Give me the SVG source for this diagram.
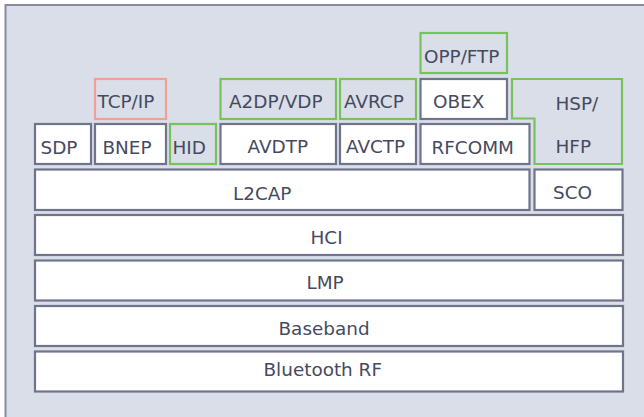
<svg xmlns="http://www.w3.org/2000/svg" width="644" height="417" viewBox="0 0 644 417">
<style>
.bg{fill:#d9dee8;stroke:#868b9f;stroke-width:2}
.b{fill:#ffffff;stroke:#6f748a;stroke-width:2.2}
.g{fill:none;stroke:#77c25a;stroke-width:2.2}
.r{fill:none;stroke:#f2a091;stroke-width:2.2}
text{font-family:"DejaVu Sans",sans-serif;font-size:18.4px;fill:#454a61}
</style>
<rect class="bg" x="5.5" y="5" width="650" height="430"/>
<g id="OPP-FTP"><rect class="g" x="420.5" y="33" width="86.5" height="40"/><text x="424" y="62.5">OPP/FTP</text></g>
<g id="TCP-IP"><rect class="r" x="95" y="79" width="71" height="40"/><text x="97.5" y="107.5">TCP/IP</text></g>
<g id="A2DP-VDP"><rect class="g" x="220.5" y="79" width="115.5" height="40"/><text x="229" y="107.5">A2DP/VDP</text></g>
<g id="AVRCP"><rect class="g" x="340" y="79" width="76" height="40"/><text x="344" y="107.5">AVRCP</text></g>
<g id="OBEX"><rect class="b" x="420.5" y="79" width="86.5" height="40"/><text x="433" y="107.5">OBEX</text></g>
<g id="HSP-HFP"><path class="g" d="M512,79 H622 V164 H534.5 V118.5 H512 Z"/><text x="555.5" y="109.5">HSP/</text><text x="555.5" y="153">HFP</text></g>
<g id="SDP"><rect class="b" x="35" y="124" width="56" height="40"/><text x="40.5" y="153.5">SDP</text></g>
<g id="BNEP"><rect class="b" x="95" y="124" width="71" height="40"/><text x="102.5" y="153.5">BNEP</text></g>
<g id="HID"><rect class="g" x="170" y="124" width="46" height="40"/><text x="172.5" y="153.5">HID</text></g>
<g id="AVDTP"><rect class="b" x="220.5" y="124" width="115.5" height="40"/><text x="247.5" y="152.5">AVDTP</text></g>
<g id="AVCTP"><rect class="b" x="340" y="124" width="76" height="40"/><text x="346" y="152.5">AVCTP</text></g>
<g id="RFCOMM"><rect class="b" x="420.5" y="124" width="109" height="40"/><text x="431.5" y="153.5">RFCOMM</text></g>
<g id="L2CAP"><rect class="b" x="35" y="169.5" width="494.5" height="40.5"/><text x="233" y="199.5">L2CAP</text></g>
<g id="SCO"><rect class="b" x="534.5" y="169.5" width="88" height="40.5"/><text x="553" y="198.5">SCO</text></g>
<g id="HCI"><rect class="b" x="35" y="215" width="588" height="40"/><text x="310.5" y="244">HCI</text></g>
<g id="LMP"><rect class="b" x="35" y="260.5" width="588" height="40"/><text x="306.5" y="289">LMP</text></g>
<g id="Baseband"><rect class="b" x="35" y="306" width="588" height="40"/><text x="278.5" y="335">Baseband</text></g>
<g id="BluetoothRF"><rect class="b" x="35" y="351.5" width="588" height="40"/><text x="263.5" y="376">Bluetooth RF</text></g>
<g id="connectors"/>
</svg>
